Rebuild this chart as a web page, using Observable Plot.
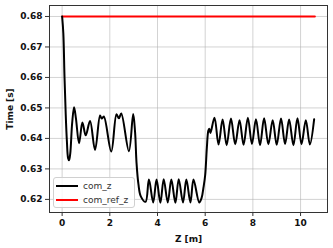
<!DOCTYPE html>
<html>
<head>
<meta charset="utf-8">
<script src="https://cdn.jsdelivr.net/npm/d3@7"></script>
<script src="https://cdn.jsdelivr.net/npm/@observablehq/plot@0.6"></script>
<style>
  html, body { margin: 0; padding: 0; background: #fff; }
  #wrap { position: relative; width: 333px; height: 248px; font-family: "DejaVu Sans", sans-serif; }
  #legend { position: absolute; left: 53px; top: 177px; width: 82px; height: 31px; box-sizing: border-box;
    border: 1px solid #d0d0d0; border-radius: 3px; background: rgba(255,255,255,0.8); }
  .item { position: absolute; left: 0; height: 12px; width: 80px; }
  .item .sw { position: absolute; left: 2px; top: 5px; width: 22px; height: 2px; }
  .item .lb { position: absolute; left: 29px; top: 0; font-size: 9px; line-height: 12px; color: #333; white-space: nowrap; }
</style>
</head>
<body>
<div id="wrap"></div>
<script>
// Series names and colours
const seriesNames = ["com_z", "com_ref_z"];
const seriesColors = ["#000000", "#ff0000"];

// com_z curve
const zPos = [0, 0.05, 0.10, 0.15, 0.20, 0.25, 0.29, 0.34, 0.42, 0.50, 0.58, 0.71, 0.85, 0.99, 1.17, 1.38, 1.59, 1.66, 1.75, 2.06, 2.28, 2.38, 2.48, 2.80, 2.98, 3.06, 3.12, 3.20, 3.30, 3.50, 3.64, 3.82, 3.96, 4.12, 4.26, 4.43, 4.58, 4.75, 4.89, 5.07, 5.21, 5.38, 5.51, 5.75, 5.85, 5.93, 6.00, 6.07, 6.13, 6.17, 6.22, 6.39, 6.56, 6.73, 6.90, 7.08, 7.26, 7.44, 7.61, 7.79, 7.96, 8.13, 8.30, 8.47, 8.65, 8.83, 9.00, 9.18, 9.35, 9.52, 9.70, 9.87, 10.04, 10.22, 10.39, 10.57];
const comZ = [0.680, 0.6745, 0.660, 0.648, 0.639, 0.6335, 0.6328, 0.635, 0.645, 0.6502, 0.6465, 0.6384, 0.6452, 0.6410, 0.6457, 0.6362, 0.6475, 0.6465, 0.6472, 0.6357, 0.6479, 0.6466, 0.6482, 0.6358, 0.6480, 0.642, 0.632, 0.625, 0.6210, 0.6192, 0.6265, 0.6190, 0.6265, 0.6189, 0.6266, 0.6190, 0.6265, 0.6189, 0.6266, 0.6190, 0.6265, 0.6190, 0.6265, 0.6190, 0.6205, 0.624, 0.628, 0.637, 0.6425, 0.6432, 0.6418, 0.6468, 0.6380, 0.6462, 0.6378, 0.6465, 0.6381, 0.6460, 0.6379, 0.6468, 0.6382, 0.6463, 0.6378, 0.6466, 0.6381, 0.6460, 0.6379, 0.6465, 0.6382, 0.6462, 0.6378, 0.6466, 0.6381, 0.6460, 0.6380, 0.6463];

// com_ref_z (constant)
const refPos = [0, 10.6];
const refZ = [0.68, 0.68];

// Axis ticks
const xTicks = [0, 2, 4, 6, 8, 10];
const yTicks = [0.62, 0.63, 0.64, 0.65, 0.66, 0.67, 0.68];
const xLabel = "Z [m]";
const yLabel = "Time [s]";

const comData = zPos.map((z, i) => ({z, v: comZ[i]}));
const refData = refPos.map((z, i) => ({z, v: refZ[i]}));

const font = "DejaVu Sans";
const chart = Plot.plot({
  width: 333,
  height: 248,
  marginLeft: 49,
  marginRight: 6,
  marginTop: 5,
  marginBottom: 36,
  style: {fontFamily: font, background: "#fff", overflow: "visible"},
  x: {domain: [-0.53, 11.13]},
  y: {domain: [0.6157, 0.6836]},
  marks: [
    Plot.gridX(xTicks, {stroke: "#b0b0b0", strokeOpacity: 0.7, strokeWidth: 0.8}),
    Plot.gridY(yTicks, {stroke: "#b0b0b0", strokeOpacity: 0.7, strokeWidth: 0.8}),
    Plot.axisX({ticks: xTicks, tickSize: 4, tickPadding: 3, stroke: "#333", fill: "#111",
      fontSize: 9, fontWeight: "bold", label: xLabel, labelAnchor: "center", labelOffset: 29,
      labelArrow: "none", tickFormat: d3.format("d")}),
    Plot.axisY({ticks: yTicks, tickSize: 4, tickPadding: 3, stroke: "#333", fill: "#111",
      fontSize: 9, fontWeight: "bold", label: yLabel, labelAnchor: "center", labelOffset: 43,
      labelArrow: "none", tickFormat: d3.format(".2f")}),
    Plot.line(refData, {x: "z", y: "v", stroke: seriesColors[1], strokeWidth: 2}),
    Plot.line(comData, {x: "z", y: "v", stroke: seriesColors[0], strokeWidth: 2, curve: "catmull-rom"}),
    Plot.frame({stroke: "#333", strokeWidth: 1})
  ]
});
// strip any label arrows if this Plot version adds them
chart.querySelectorAll("text, tspan").forEach(t => {
  if (t.childNodes.length === 1 && t.firstChild.nodeType === 3) {
    t.textContent = t.textContent.replace(/\s*[→↑←↓]\s*/g, "").trim();
  }
});
const wrap = document.getElementById("wrap");
wrap.appendChild(chart);

// Legend
const legend = document.createElement("div");
legend.id = "legend";
seriesNames.forEach((name, i) => {
  const item = document.createElement("div");
  item.className = "item";
  item.style.top = (2 + i * 14) + "px";
  const sw = document.createElement("div");
  sw.className = "sw";
  sw.style.background = seriesColors[i];
  const lb = document.createElement("div");
  lb.className = "lb";
  lb.textContent = name;
  item.appendChild(sw);
  item.appendChild(lb);
  legend.appendChild(item);
});
wrap.appendChild(legend);
</script>
</body>
</html>
